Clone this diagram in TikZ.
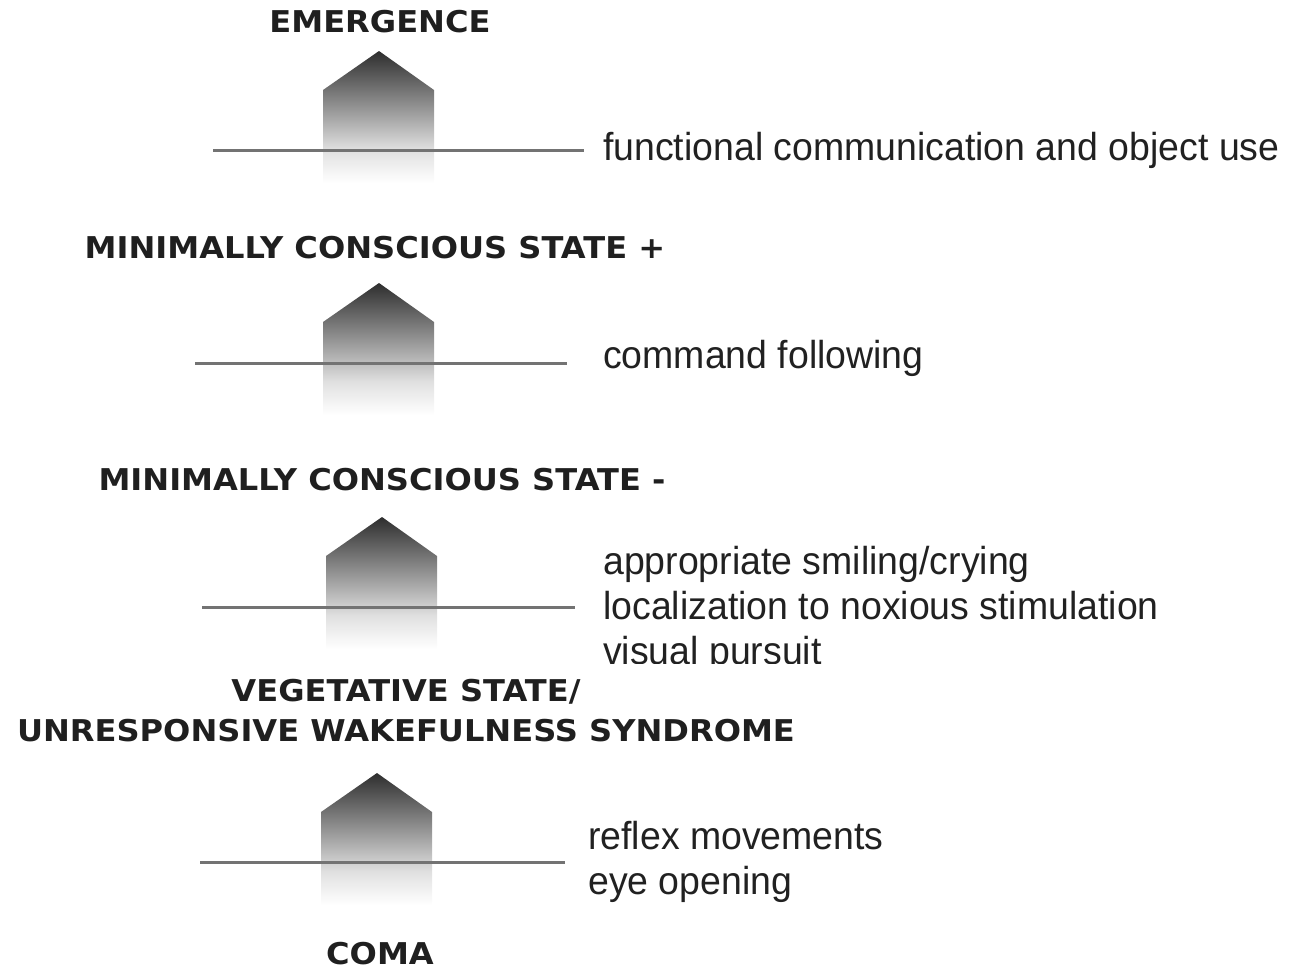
\documentclass[tikz,border=0pt]{standalone}
\usepackage{fontspec}
\setmainfont[FakeStretch=0.96]{Liberation Sans}
\newfontfamily\titlefont[FakeStretch=1.07]{DejaVu Sans}
\newcommand{\levelmark}[2]{%
  \shade[top color=black!82, bottom color=black!12] (#1-56,#2+39) -- (#1,#2) -- (#1+55,#2+39) -- (#1+55,#2+99) -- (#1-56,#2+99) -- cycle;
  \shade[top color=black!12, bottom color=white] (#1-56,#2+99) rectangle (#1+55,#2+132);
}
\begin{document}
\begin{tikzpicture}[x=1pt,y=-1pt,
  ttl/.style={font=\titlefont\bfseries\fontsize{30}{40}\selectfont, text=black!88, inner sep=0pt, align=center, anchor=base},
  lbl/.style={font=\fontsize{39}{45}\selectfont, text=black!87, inner sep=0pt, anchor=west, align=left},
  lvl/.style={draw=black!55, line width=3pt}]
\useasboundingbox (0,0) rectangle (1293,970);
% Emergence
\node[ttl] (t1) at (380,32) {EMERGENCE};
\levelmark{379}{51}
\coordinate (l1a) at (213,150); \coordinate (l1b) at (584,150);
\draw[lvl] (l1a) -- (l1b);
\node[lbl] (d1) at (603,150) {functional communication and object use};
% MCS+
\node[ttl] (t2) at (375,258) {MINIMALLY CONSCIOUS STATE +};
\levelmark{379}{283}
\coordinate (l2a) at (195,363); \coordinate (l2b) at (567,363);
\draw[lvl] (l2a) -- (l2b);
\node[lbl] (d2) at (603,358) {command following};
% MCS-
\node[ttl] (t3) at (382,490) {MINIMALLY CONSCIOUS STATE -};
\levelmark{382}{517}
\coordinate (l3a) at (202,607); \coordinate (l3b) at (575,607);
\draw[lvl] (l3a) -- (l3b);
\begin{scope}
\clip (590,530) rectangle (1293,663);
\node[lbl] (d3) at (603,609) {appropriate smiling/crying\\localization to noxious stimulation\\visual pursuit};
\end{scope}
% VS/UWS
\node[ttl] (t4) at (406,741) {VEGETATIVE STATE/\\UNRESPONSIVE WAKEFULNESS SYNDROME};
\levelmark{377}{773}
\coordinate (l4a) at (200,862); \coordinate (l4b) at (565,862);
\draw[lvl] (l4a) -- (l4b);
\node[lbl] (d4) at (588,862) {reflex movements\\eye opening};
% Coma
\node[ttl] (t5) at (380,964) {COMA};
\end{tikzpicture}
\end{document}
